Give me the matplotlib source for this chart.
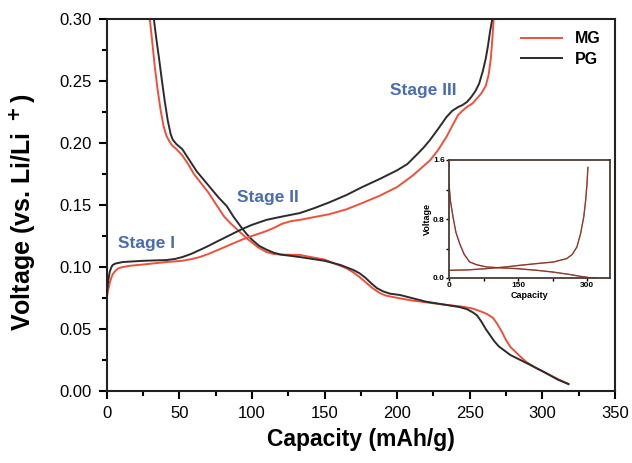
import matplotlib
matplotlib.use('Agg')
import matplotlib.pyplot as plt
from matplotlib.ticker import MultipleLocator

plt.rcParams['font.family'] = ['Liberation Sans', 'DejaVu Sans']

# --- main plot data ---
pg_dis_x = [31, 32.4, 34, 36, 38, 40, 42, 44, 45.5, 48, 52, 57, 62, 67, 72, 77, 82.7, 87, 92, 96,
            100, 105, 110, 115, 120, 133, 150, 161, 170, 174, 178, 182, 186, 190, 195, 202, 220,
            243, 248, 252, 255, 258, 261, 264, 267, 270, 274, 278, 284, 290, 300, 311, 318]
pg_dis_y = [0.33, 0.30, 0.285, 0.268, 0.25, 0.233, 0.218, 0.207, 0.2025, 0.199, 0.195, 0.186,
            0.177, 0.170, 0.163, 0.156, 0.149, 0.141, 0.133, 0.127, 0.122, 0.117, 0.114, 0.1115,
            0.110, 0.108, 0.105, 0.1016, 0.0975, 0.095, 0.0915, 0.087, 0.083, 0.0805, 0.0785,
            0.0774, 0.072, 0.0677, 0.066, 0.0635, 0.061, 0.056, 0.050, 0.045, 0.040, 0.036,
            0.0325, 0.029, 0.0255, 0.022, 0.016, 0.009, 0.0056]

mg_dis_x = [28.5, 29.6, 31, 33, 35, 37, 39, 41, 43, 45, 48, 52, 56, 60, 65, 70, 75, 80.6, 85, 90,
            96.5, 104, 110, 115, 120, 133, 150, 165, 170, 174, 178, 183, 188, 192, 197, 210, 230,
            245, 252, 258, 262, 266, 269, 272, 275, 278, 282, 286, 289, 295, 300, 310, 318]
mg_dis_y = [0.33, 0.30, 0.285, 0.262, 0.243, 0.227, 0.214, 0.206, 0.2015, 0.198, 0.195, 0.19,
            0.183, 0.175, 0.1675, 0.16, 0.151, 0.141, 0.1355, 0.13, 0.123, 0.116, 0.112, 0.1105,
            0.110, 0.1097, 0.106, 0.099, 0.0955, 0.092, 0.088, 0.083, 0.079, 0.077, 0.0758, 0.073,
            0.070, 0.068, 0.0665, 0.064, 0.062, 0.059, 0.054, 0.048, 0.041, 0.0355, 0.031, 0.0265,
            0.0234, 0.019, 0.016, 0.010, 0.0056]

pg_chg_x = [0, 0.5, 1, 2, 3, 4, 6, 11, 25, 41, 47, 52, 58, 64, 70, 75, 81, 87, 93, 100, 105, 110,
            120, 133, 143, 153, 165, 176, 188, 200, 207, 213, 218, 222.6, 228, 234, 238, 242, 245,
            248, 251, 254, 256.5, 259, 261, 262.5, 264, 265.5, 266.5]
pg_chg_y = [0.079, 0.084, 0.089, 0.096, 0.0995, 0.1016, 0.1028, 0.104, 0.105, 0.1056, 0.1065,
            0.108, 0.1105, 0.1137, 0.117, 0.12, 0.1235, 0.127, 0.1305, 0.134, 0.136, 0.138, 0.1405,
            0.1435, 0.1475, 0.152, 0.158, 0.1645, 0.171, 0.178, 0.183, 0.19, 0.196, 0.2024, 0.211,
            0.221, 0.226, 0.229, 0.2306, 0.233, 0.237, 0.242, 0.248, 0.258, 0.268, 0.278, 0.29,
            0.30, 0.315]

mg_chg_x = [0, 1, 2, 3, 4, 6, 8, 11, 16, 25, 41, 52, 58, 64, 70, 75, 81, 87, 93, 100, 110, 116,
            121, 127, 133, 143, 153, 165, 176, 188, 200, 211, 222.6, 228, 234, 238, 242, 245, 248,
            252, 255, 258, 261, 263, 264.5, 265.5, 266.5, 267.5]
mg_chg_y = [0.075, 0.082, 0.087, 0.091, 0.094, 0.097, 0.099, 0.1, 0.101, 0.102, 0.104, 0.105,
            0.1063, 0.108, 0.1105, 0.113, 0.116, 0.119, 0.122, 0.125, 0.129, 0.132, 0.135, 0.137,
            0.138, 0.1403, 0.1425, 0.1465, 0.1516, 0.1575, 0.1645, 0.174, 0.186, 0.194, 0.205,
            0.214, 0.2226, 0.226, 0.229, 0.232, 0.236, 0.24, 0.246, 0.255, 0.268, 0.283, 0.30, 0.315]

# --- inset data ---
in_dis_x = [0, 3, 8.7, 15, 23, 33, 45, 60, 81.5, 110, 147, 190, 227, 260, 285, 300, 307, 320]
in_dis_y = [1.28, 1.05, 0.83, 0.62, 0.47, 0.32, 0.217, 0.18, 0.15, 0.138, 0.127, 0.105, 0.08,
            0.05, 0.023, 0.01, 0.0, 0.0]
in_chg_x = [0, 40, 81.5, 120, 154, 190, 227, 256, 268, 278, 286, 293, 297, 300, 302]
in_chg_y = [0.104, 0.11, 0.127, 0.148, 0.172, 0.195, 0.217, 0.263, 0.32, 0.42, 0.6, 0.83, 1.05,
            1.28, 1.5]

red = '#f0503a'
blk = '#2b2b2b'
blue = '#4a6cb3'

fig = plt.figure(figsize=(6.32, 4.63), dpi=100)
ax = fig.add_axes([0.169, 0.1555, 0.804, 0.8035])

ax.plot(mg_dis_x, mg_dis_y, color=red, lw=1.4, label='MG')
ax.plot(pg_dis_x, pg_dis_y, color=blk, lw=1.4, label='PG')
ax.plot(mg_chg_x, mg_chg_y, color=red, lw=1.4)
ax.plot(pg_chg_x, pg_chg_y, color=blk, lw=1.4)

ax.set_xlim(0, 350)
ax.set_ylim(0, 0.30)
ax.xaxis.set_major_locator(MultipleLocator(50))
ax.xaxis.set_minor_locator(MultipleLocator(25))
ax.yaxis.set_minor_locator(MultipleLocator(0.025))
ax.set_yticks([0, 0.05, 0.10, 0.15, 0.20, 0.25, 0.30])
ax.set_yticklabels(['0.00', '0.05', '0.10', '0.15', '0.20', '0.25', '0.30'])
ax.tick_params(which='major', direction='out', length=6, width=1.5, labelsize=12, pad=5)
ax.tick_params(which='minor', direction='out', length=3.5, width=1.5)
for s in ax.spines.values():
    s.set_linewidth(1.5)
    s.set_color('#222222')

ax.set_xlabel('Capacity (mAh/g)', fontsize=16.5, fontweight='bold', labelpad=5)
ax.set_ylabel('Voltage (vs. Li/Li $^{\\bf +}$)', fontsize=18, fontweight='bold')
ax.yaxis.set_label_coords(-0.138, 0.48)

ax.text(27.6, 0.119, 'Stage I', color=blue, fontsize=12.5, fontweight='bold', ha='center', va='center')
ax.text(111, 0.156, 'Stage II', color=blue, fontsize=12.5, fontweight='bold', ha='center', va='center')
ax.text(218, 0.242, 'Stage III', color=blue, fontsize=12.5, fontweight='bold', ha='center', va='center')

ax.legend(loc='upper right', frameon=False, handlelength=2.6,
          prop={'weight': 'bold', 'size': 11.5}, bbox_to_anchor=(1.0, 1.005), labelspacing=0.35)

# inset
ins = fig.add_axes([449 / 632, 1 - 278 / 463, 161 / 632, 118 / 463])
ins.plot(in_dis_x, in_dis_y, color=red, lw=1.0)
ins.plot(in_chg_x, in_chg_y, color=red, lw=1.0)
ins.plot(in_dis_x, in_dis_y, color='#5a3a30', lw=0.8, alpha=0.8)
ins.plot(in_chg_x, in_chg_y, color='#5a3a30', lw=0.8, alpha=0.8)
ins.set_xlim(0, 350)
ins.set_ylim(0, 1.6)
ins.set_xticks([0, 150, 300])
ins.set_yticks([0.0, 0.8, 1.6])
ins.set_yticklabels(['0.0', '0.8', '1.6'])
ins.xaxis.set_minor_locator(MultipleLocator(75))
ins.yaxis.set_minor_locator(MultipleLocator(0.4))
ins.tick_params(which='both', direction='out', length=2, width=1, labelsize=6, pad=1)
for t in ins.get_xticklabels() + ins.get_yticklabels():
    t.set_fontweight('bold')
for s in ins.spines.values():
    s.set_linewidth(1.3)
    s.set_color('#4a3a35')
ins.set_xlabel('Capacity', fontsize=6.5, fontweight='bold', labelpad=1)
ins.set_ylabel('Voltage', fontsize=6.5, fontweight='bold', labelpad=1)

fig.savefig('out.png', dpi=100)
